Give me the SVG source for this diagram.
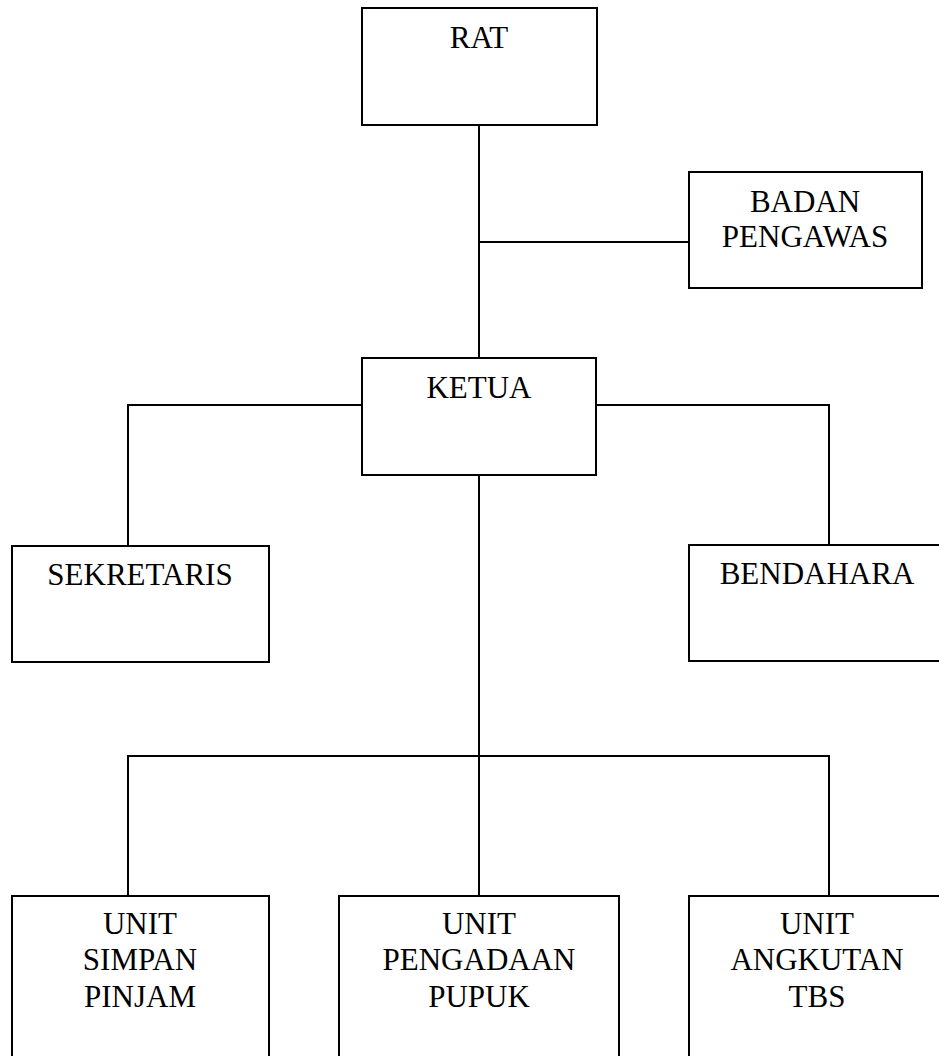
<svg xmlns="http://www.w3.org/2000/svg" width="939" height="1056" viewBox="0 0 939 1056">
<style>
.box{fill:#fff;stroke:#000;stroke-width:2}
.ln{fill:none;stroke:#000;stroke-width:2}
.t{font-family:"Liberation Serif","Times New Roman",serif;font-size:31px;fill:#000;text-anchor:middle}
</style>
<rect width="939" height="1056" fill="#fff"/>
<g id="connectors">
<line class="ln" x1="479" y1="125" x2="479" y2="358"/>
<line class="ln" x1="479" y1="242" x2="689" y2="242"/>
<polyline class="ln" points="362,405 128,405 128,546"/>
<polyline class="ln" points="596,405 829,405 829,545"/>
<line class="ln" x1="479" y1="475" x2="479" y2="896"/>
<polyline class="ln" points="128,896 128,756 829,756 829,896"/>
</g>
<g id="rat">
<rect class="box" x="362" y="8" width="235" height="117"/>
<text class="t" x="479" y="48">RAT</text>
</g>
<g id="badan-pengawas">
<rect class="box" x="689" y="172" width="233" height="116"/>
<text class="t" x="805" y="212">BADAN</text>
<text class="t" x="805" y="247">PENGAWAS</text>
</g>
<g id="ketua">
<rect class="box" x="362" y="358" width="234" height="117"/>
<text class="t" x="479" y="398">KETUA</text>
</g>
<g id="sekretaris">
<rect class="box" x="12" y="546" width="257" height="116"/>
<text class="t" x="140" y="585">SEKRETARIS</text>
</g>
<g id="bendahara">
<rect class="box" x="689" y="545" width="262" height="116"/>
<text class="t" x="817" y="584">BENDAHARA</text>
</g>
<g id="unit-simpan-pinjam">
<rect class="box" x="12" y="896" width="257" height="200"/>
<text class="t" x="140" y="934">UNIT</text>
<text class="t" x="140" y="970">SIMPAN</text>
<text class="t" x="140" y="1007">PINJAM</text>
</g>
<g id="unit-pengadaan-pupuk">
<rect class="box" x="339" y="896" width="280" height="200"/>
<text class="t" x="479" y="934">UNIT</text>
<text class="t" x="479" y="970">PENGADAAN</text>
<text class="t" x="479" y="1007">PUPUK</text>
</g>
<g id="unit-angkutan-tbs">
<rect class="box" x="689" y="896" width="262" height="200"/>
<text class="t" x="817" y="934">UNIT</text>
<text class="t" x="817" y="970">ANGKUTAN</text>
<text class="t" x="817" y="1007">TBS</text>
</g>
</svg>
